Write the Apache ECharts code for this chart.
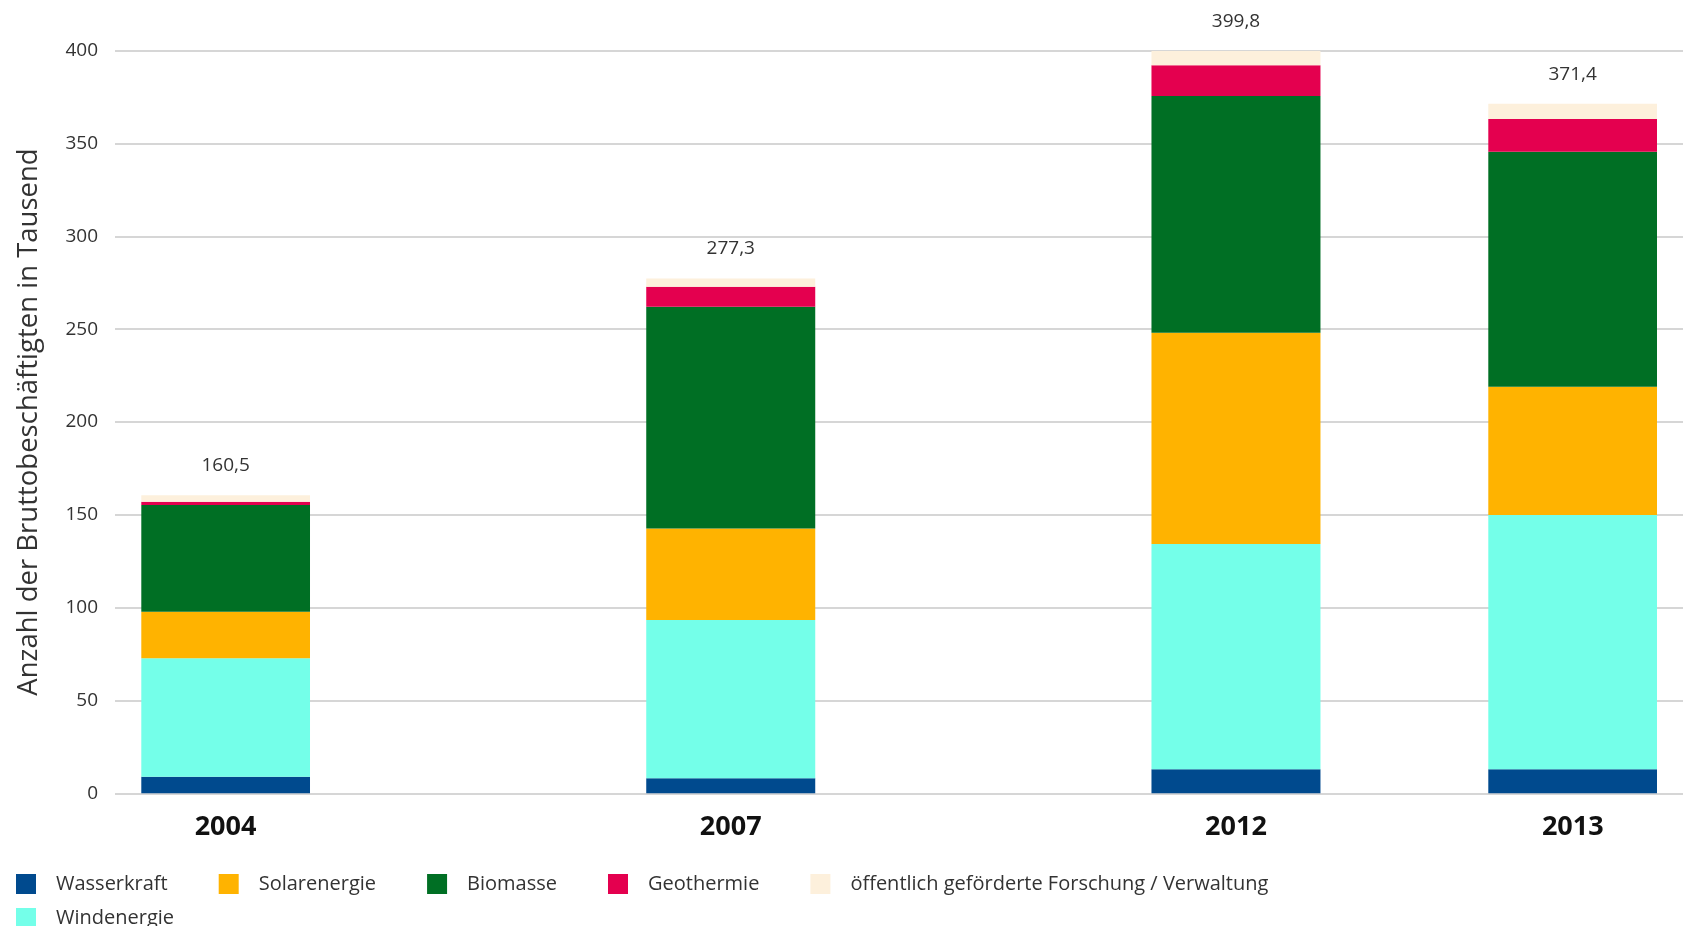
<!DOCTYPE html>
<html lang="de">
<head>
<meta charset="utf-8">
<title>Bruttobeschäftigte erneuerbare Energien</title>
<script src="https://cdn.jsdelivr.net/npm/echarts@6/dist/echarts.min.js"></script>
<style>
  html, body { margin: 0; padding: 0; background: #ffffff; }
  #chart { width: 1683px; height: 926px; }
</style>
</head>
<body>
<div id="chart"></div>
<script>
// Jahre und ihre Lage auf der Zeitachse (in Säulenbreiten)
const years = ['2004', '2007', '2012', '2013'];
const slots = [0, 3, 6, 8];

// Bruttobeschäftigte in Tausend je Sparte
const wasserkraft  = [8.9, 8.1, 12.9, 12.9];
const windenergie  = [63.8, 85.2, 121.4, 137.0];
const solarenergie = [25.1, 49.4, 113.8, 69.1];
const biomasse     = [57.5, 119.4, 127.5, 126.6];
const geothermie   = [1.8, 10.8, 16.5, 17.6];
const forschung    = [3.4, 4.4, 7.7, 8.2];

const yTicks = { min: 0, max: 400, interval: 50 };

const FONT = '"Open Sans", "Noto Sans", sans-serif';

// Kategorien der Säulenachse: Jahre an ihren Plätzen, Lücken dazwischen leer
const slotCount = slots[slots.length - 1] + 1;
const categories = Array.from({ length: slotCount }, (_, k) => {
  const i = slots.indexOf(k);
  return i >= 0 ? years[i] : ' '.repeat(k + 1);
});

const stackOrder = [
  { name: 'Wasserkraft', data: wasserkraft, color: '#004a8e' },
  { name: 'Windenergie', data: windenergie, color: '#74ffe9' },
  { name: 'Solarenergie', data: solarenergie, color: '#ffb300' },
  { name: 'Biomasse', data: biomasse, color: '#006f24' },
  { name: 'Geothermie', data: geothermie, color: '#e4004f' },
  { name: 'öffentlich geförderte Forschung / Verwaltung', data: forschung, color: '#fdf0dc' }
];

function totalAt(i) {
  return stackOrder.reduce((s, d) => s + d.data[i], 0);
}
function deNumber(v) {
  return (Math.round(v * 10) / 10).toFixed(1).replace('.', ',');
}

const series = stackOrder.map((s, k) => {
  const isTop = k === stackOrder.length - 1;
  return {
    name: s.name,
    type: 'bar',
    xAxisIndex: 1,
    yAxisIndex: 1,
    stack: 'gesamt',
    barWidth: 169,
    itemStyle: { color: s.color },
    data: years.map((y, i) => [y, s.data[i]]),
    label: isTop ? {
      show: true,
      position: 'top',
      distance: 20,
      color: '#333333',
      fontFamily: FONT,
      fontSize: 19,
      formatter: p => deNumber(totalAt(p.dataIndex))
    } : { show: false }
  };
});

const legendText = {
  color: '#333333',
  fontFamily: FONT,
  fontSize: 20,
  padding: [0, 0, 0, 15]
};

const plotTop = 50.7, plotBottom = 132.7;

const chart = echarts.init(document.getElementById('chart'), null, { renderer: 'canvas' });
chart.setOption({
  backgroundColor: '#ffffff',
  animation: false,
  grid: [
    // Raster und Größenachse
    { left: 115, right: 0, top: plotTop, bottom: plotBottom },
    // Säulen
    { left: 141.3, right: 26, top: plotTop, bottom: plotBottom }
  ],
  legend: [
    {
      left: 11, top: 869, orient: 'horizontal',
      itemWidth: 20, itemHeight: 20, itemGap: 51, icon: 'rect',
      textStyle: legendText,
      data: ['Wasserkraft', 'Solarenergie', 'Biomasse', 'Geothermie',
             'öffentlich geförderte Forschung / Verwaltung']
    },
    {
      left: 11, top: 903, orient: 'horizontal',
      itemWidth: 20, itemHeight: 20, itemGap: 51, icon: 'rect',
      textStyle: legendText,
      data: ['Windenergie']
    }
  ],
  xAxis: [
    { gridIndex: 0, type: 'value', show: false, min: 0, max: 1 },
    {
      gridIndex: 1,
      type: 'category',
      data: categories,
      boundaryGap: true,
      axisLine: { show: false },
      axisTick: { show: false },
      splitLine: { show: false },
      axisLabel: {
        interval: 0,
        margin: 21,
        color: '#111111',
        fontFamily: FONT,
        fontWeight: 'bold',
        fontSize: 27
      }
    }
  ],
  yAxis: [
    {
      gridIndex: 0,
      type: 'value',
      min: yTicks.min,
      max: yTicks.max,
      interval: yTicks.interval,
      name: 'Anzahl der Bruttobeschäftigten in Tausend',
      nameLocation: 'middle',
      nameRotate: 90,
      nameGap: 72,
      nameTextStyle: { color: '#333333', fontFamily: FONT, fontSize: 27.5 },
      axisLine: { show: false },
      axisTick: { show: false },
      axisLabel: { margin: 17, color: '#333333', fontFamily: FONT, fontSize: 19 },
      splitLine: { show: true, lineStyle: { color: '#c8c8c8', width: 1.5 } }
    },
    {
      gridIndex: 1,
      type: 'value',
      min: yTicks.min,
      max: yTicks.max,
      interval: yTicks.interval,
      show: false,
      splitLine: { show: false }
    }
  ],
  series: series
});
</script>
</body>
</html>
